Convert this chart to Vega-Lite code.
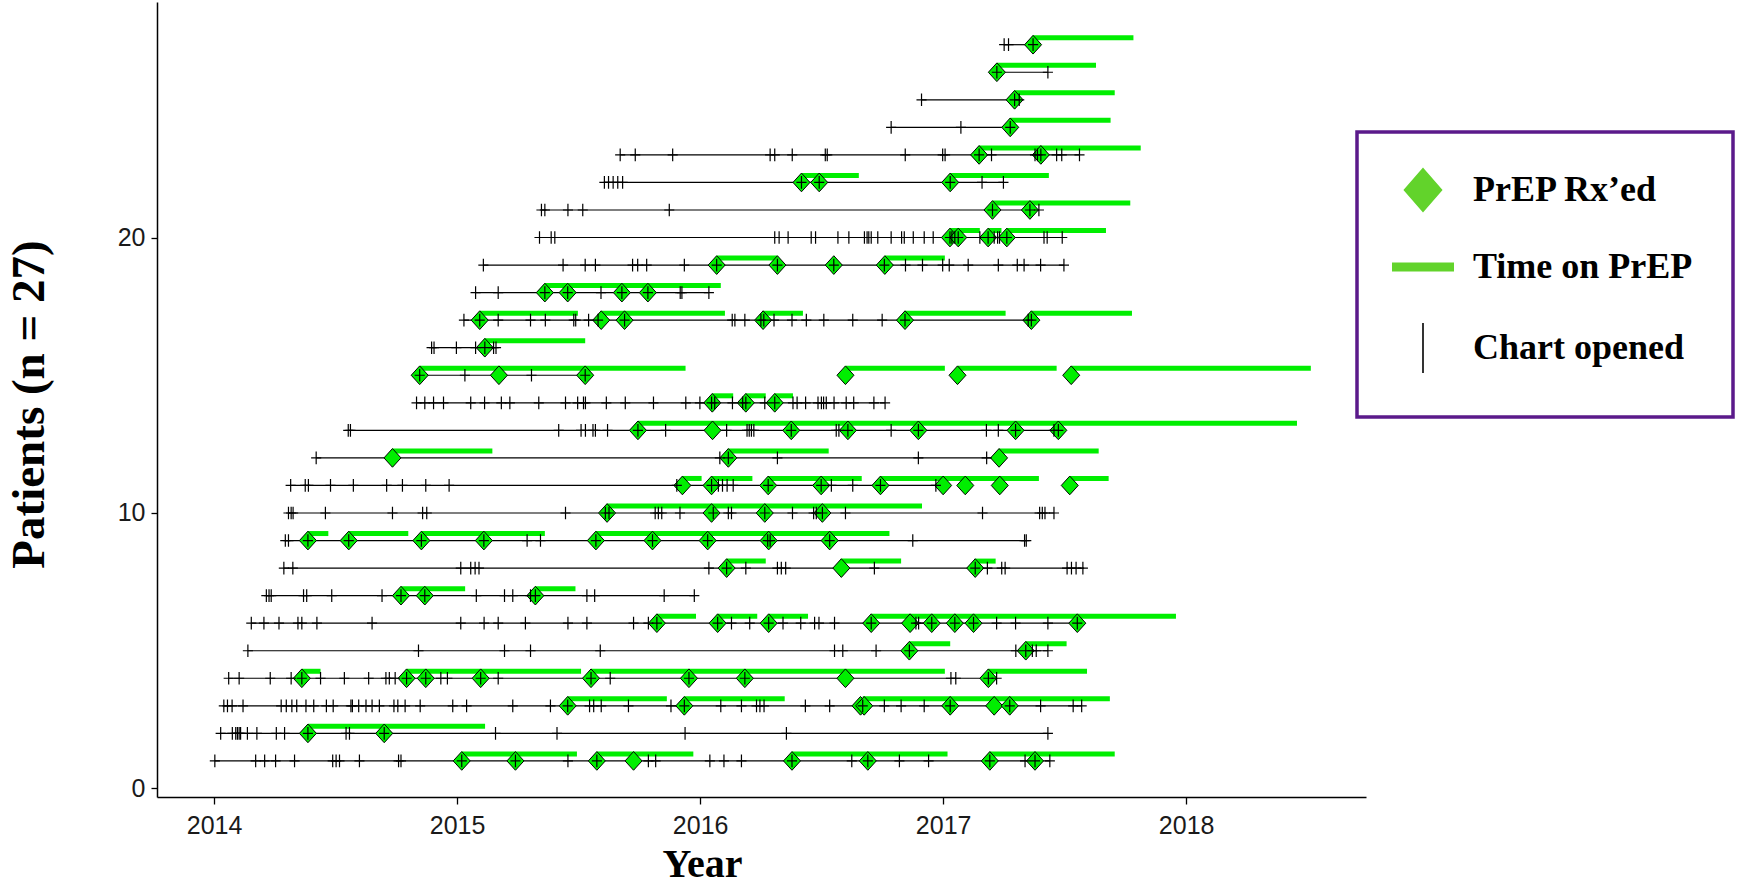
{
"$schema": "https://vega.github.io/schema/vega-lite/v6.json",
"width": 1209, "height": 795,
"autosize": {"type": "none"},
"padding": {"left": 157, "top": 2, "right": 375, "bottom": 87},
"background": "white",
"config": {"view": {"stroke": null}, "legend": {"strokeWidth": 3.5}},
"datasets": {
"lines": [
{"p":1,"s":2014.003,"e":2017.439},{"p":2,"s":2014.027,"e":2017.431},{"p":3,"s":2014.040,"e":2017.570},{"p":4,"s":2014.060,"e":2017.220},{"p":5,"s":2014.139,"e":2017.431},{"p":6,"s":2014.153,"e":2017.560},{"p":7,"s":2014.215,"e":2015.976},{"p":8,"s":2014.287,"e":2017.580},{"p":9,"s":2014.293,"e":2017.342},{"p":10,"s":2014.306,"e":2017.456},{"p":11,"s":2014.315,"e":2016.975},{"p":12,"s":2014.420,"e":2017.230},{"p":13,"s":2014.552,"e":2017.474},{"p":14,"s":2014.833,"e":2016.761},{"p":15,"s":2014.846,"e":2015.527},{"p":16,"s":2014.895,"e":2015.160},{"p":17,"s":2015.028,"e":2017.363},{"p":18,"s":2015.076,"e":2016.036},{"p":19,"s":2015.108,"e":2017.497},{"p":20,"s":2015.339,"e":2017.490},{"p":21,"s":2015.347,"e":2017.394},{"p":22,"s":2015.606,"e":2017.248},{"p":23,"s":2015.671,"e":2017.561},{"p":24,"s":2016.786,"e":2017.276},{"p":25,"s":2016.911,"e":2017.313},{"p":26,"s":2017.221,"e":2017.431},{"p":27,"s":2017.251,"e":2017.370}
],
"bars": [
{"p":1,"s":2015.019,"e":2015.493},{"p":1,"s":2015.575,"e":2015.972},{"p":1,"s":2016.378,"e":2017.018},{"p":1,"s":2017.192,"e":2017.706},
{"p":2,"s":2014.386,"e":2015.115},
{"p":3,"s":2015.455,"e":2015.863},{"p":3,"s":2015.935,"e":2016.348},{"p":3,"s":2016.669,"e":2017.686},
{"p":4,"s":2014.361,"e":2014.438},{"p":4,"s":2014.792,"e":2015.510},{"p":4,"s":2015.551,"e":2017.007},{"p":4,"s":2017.186,"e":2017.592},
{"p":5,"s":2016.861,"e":2017.029},{"p":5,"s":2017.340,"e":2017.508},
{"p":6,"s":2015.822,"e":2015.983},{"p":6,"s":2016.072,"e":2016.235},{"p":6,"s":2016.282,"e":2016.444},{"p":6,"s":2016.704,"e":2017.958},
{"p":7,"s":2014.769,"e":2015.033},{"p":7,"s":2015.322,"e":2015.487},
{"p":8,"s":2016.109,"e":2016.270},{"p":8,"s":2016.581,"e":2016.827},{"p":8,"s":2017.132,"e":2017.216},
{"p":9,"s":2014.386,"e":2014.470},{"p":9,"s":2014.554,"e":2014.799},{"p":9,"s":2014.853,"e":2015.361},{"p":9,"s":2015.571,"e":2016.779},
{"p":10,"s":2015.617,"e":2016.913},
{"p":11,"s":2015.927,"e":2016.006},{"p":11,"s":2016.047,"e":2016.215},{"p":11,"s":2016.280,"e":2016.665},{"p":11,"s":2016.742,"e":2017.394},{"p":11,"s":2017.521,"e":2017.681},
{"p":12,"s":2014.734,"e":2015.145},{"p":12,"s":2016.116,"e":2016.529},{"p":12,"s":2017.230,"e":2017.640},
{"p":13,"s":2015.744,"e":2018.456},
{"p":14,"s":2016.050,"e":2016.136},{"p":14,"s":2016.188,"e":2016.270},{"p":14,"s":2016.307,"e":2016.382},
{"p":15,"s":2014.846,"e":2015.940},{"p":15,"s":2016.598,"e":2017.007},{"p":15,"s":2017.059,"e":2017.467},{"p":15,"s":2017.527,"e":2018.513},
{"p":16,"s":2015.114,"e":2015.527},
{"p":17,"s":2015.093,"e":2015.497},{"p":17,"s":2015.593,"e":2016.102},{"p":17,"s":2016.259,"e":2016.423},{"p":17,"s":2016.843,"e":2017.257},{"p":17,"s":2017.363,"e":2017.777},
{"p":18,"s":2015.361,"e":2016.085},
{"p":19,"s":2016.068,"e":2016.318},{"p":19,"s":2016.760,"e":2017.007},
{"p":20,"s":2017.028,"e":2017.151},{"p":20,"s":2017.185,"e":2017.240},{"p":20,"s":2017.262,"e":2017.670},
{"p":21,"s":2017.203,"e":2017.770},
{"p":22,"s":2016.417,"e":2016.653},{"p":22,"s":2017.029,"e":2017.435},
{"p":23,"s":2017.148,"e":2017.813},
{"p":24,"s":2017.276,"e":2017.689},
{"p":25,"s":2017.294,"e":2017.706},
{"p":26,"s":2017.221,"e":2017.629},
{"p":27,"s":2017.370,"e":2017.783}
],
"rx": [
{"p":1,"t":2015.019},{"p":1,"t":2015.240},{"p":1,"t":2015.575},{"p":1,"t":2015.726},{"p":1,"t":2016.378},{"p":1,"t":2016.690},{"p":1,"t":2017.192},{"p":1,"t":2017.378},
{"p":2,"t":2014.386},{"p":2,"t":2014.700},
{"p":3,"t":2015.455},{"p":3,"t":2015.935},{"p":3,"t":2016.660},{"p":3,"t":2016.675},{"p":3,"t":2017.029},{"p":3,"t":2017.210},{"p":3,"t":2017.274},
{"p":4,"t":2014.361},{"p":4,"t":2014.792},{"p":4,"t":2014.871},{"p":4,"t":2015.097},{"p":4,"t":2015.551},{"p":4,"t":2015.954},{"p":4,"t":2016.184},{"p":4,"t":2016.598},{"p":4,"t":2017.186},
{"p":5,"t":2016.861},{"p":5,"t":2017.340},
{"p":6,"t":2015.822},{"p":6,"t":2016.072},{"p":6,"t":2016.282},{"p":6,"t":2016.704},{"p":6,"t":2016.864},{"p":6,"t":2016.953},{"p":6,"t":2017.048},{"p":6,"t":2017.125},{"p":6,"t":2017.552},
{"p":7,"t":2014.769},{"p":7,"t":2014.867},{"p":7,"t":2015.322},
{"p":8,"t":2016.109},{"p":8,"t":2016.581},{"p":8,"t":2017.132},
{"p":9,"t":2014.386},{"p":9,"t":2014.554},{"p":9,"t":2014.853},{"p":9,"t":2015.110},{"p":9,"t":2015.571},{"p":9,"t":2015.804},{"p":9,"t":2016.031},{"p":9,"t":2016.282},{"p":9,"t":2016.533},
{"p":10,"t":2015.617},{"p":10,"t":2016.047},{"p":10,"t":2016.266},{"p":10,"t":2016.503},
{"p":11,"t":2015.927},{"p":11,"t":2016.047},{"p":11,"t":2016.280},{"p":11,"t":2016.498},{"p":11,"t":2016.742},{"p":11,"t":2017.000},{"p":11,"t":2017.091},{"p":11,"t":2017.233},{"p":11,"t":2017.521},
{"p":12,"t":2014.734},{"p":12,"t":2016.116},{"p":12,"t":2017.230},
{"p":13,"t":2015.744},{"p":13,"t":2016.051},{"p":13,"t":2016.375},{"p":13,"t":2016.608},{"p":13,"t":2016.898},{"p":13,"t":2017.298},{"p":13,"t":2017.474},
{"p":14,"t":2016.050},{"p":14,"t":2016.188},{"p":14,"t":2016.307},
{"p":15,"t":2014.846},{"p":15,"t":2015.172},{"p":15,"t":2015.527},{"p":15,"t":2016.598},{"p":15,"t":2017.059},{"p":15,"t":2017.527},
{"p":16,"t":2015.114},
{"p":17,"t":2015.093},{"p":17,"t":2015.593},{"p":17,"t":2015.689},{"p":17,"t":2016.259},{"p":17,"t":2016.843},{"p":17,"t":2017.363},
{"p":18,"t":2015.361},{"p":18,"t":2015.455},{"p":18,"t":2015.678},{"p":18,"t":2015.785},
{"p":19,"t":2016.068},{"p":19,"t":2016.318},{"p":19,"t":2016.550},{"p":19,"t":2016.760},
{"p":20,"t":2017.028},{"p":20,"t":2017.062},{"p":20,"t":2017.185},{"p":20,"t":2017.262},
{"p":21,"t":2017.203},{"p":21,"t":2017.357},
{"p":22,"t":2016.417},{"p":22,"t":2016.490},{"p":22,"t":2017.029},
{"p":23,"t":2017.148},{"p":23,"t":2017.402},
{"p":24,"t":2017.276},
{"p":25,"t":2017.294},
{"p":26,"t":2017.221},
{"p":27,"t":2017.370}
],
"visits": [
{"p":1,"t":2014.003},{"p":1,"t":2014.171},{"p":1,"t":2014.208},{"p":1,"t":2014.253},{"p":1,"t":2014.331},{"p":1,"t":2014.488},{"p":1,"t":2014.502},{"p":1,"t":2014.516},{"p":1,"t":2014.598},{"p":1,"t":2014.759},{"p":1,"t":2014.769},{"p":1,"t":2015.019},{"p":1,"t":2015.240},{"p":1,"t":2015.456},{"p":1,"t":2015.575},{"p":1,"t":2015.787},{"p":1,"t":2015.817},{"p":1,"t":2016.040},{"p":1,"t":2016.098},{"p":1,"t":2016.170},{"p":1,"t":2016.378},{"p":1,"t":2016.624},{"p":1,"t":2016.690},{"p":1,"t":2016.820},{"p":1,"t":2016.940},{"p":1,"t":2017.192},{"p":1,"t":2017.337},{"p":1,"t":2017.378},{"p":1,"t":2017.439},
{"p":2,"t":2014.027},{"p":2,"t":2014.075},{"p":2,"t":2014.089},{"p":2,"t":2014.096},{"p":2,"t":2014.103},{"p":2,"t":2014.109},{"p":2,"t":2014.137},{"p":2,"t":2014.176},{"p":2,"t":2014.256},{"p":2,"t":2014.290},{"p":2,"t":2014.386},{"p":2,"t":2014.543},{"p":2,"t":2014.557},{"p":2,"t":2014.700},{"p":2,"t":2015.158},{"p":2,"t":2015.411},{"p":2,"t":2015.938},{"p":2,"t":2016.355},{"p":2,"t":2017.431},
{"p":3,"t":2014.040},{"p":3,"t":2014.055},{"p":3,"t":2014.074},{"p":3,"t":2014.119},{"p":3,"t":2014.276},{"p":3,"t":2014.297},{"p":3,"t":2014.320},{"p":3,"t":2014.340},{"p":3,"t":2014.378},{"p":3,"t":2014.410},{"p":3,"t":2014.462},{"p":3,"t":2014.490},{"p":3,"t":2014.563},{"p":3,"t":2014.569},{"p":3,"t":2014.595},{"p":3,"t":2014.625},{"p":3,"t":2014.650},{"p":3,"t":2014.680},{"p":3,"t":2014.740},{"p":3,"t":2014.756},{"p":3,"t":2014.786},{"p":3,"t":2014.848},{"p":3,"t":2014.982},{"p":3,"t":2015.039},{"p":3,"t":2015.229},{"p":3,"t":2015.384},{"p":3,"t":2015.455},{"p":3,"t":2015.545},{"p":3,"t":2015.562},{"p":3,"t":2015.593},{"p":3,"t":2015.705},{"p":3,"t":2015.880},{"p":3,"t":2015.935},{"p":3,"t":2016.085},{"p":3,"t":2016.170},{"p":3,"t":2016.232},{"p":3,"t":2016.246},{"p":3,"t":2016.263},{"p":3,"t":2016.433},{"p":3,"t":2016.533},{"p":3,"t":2016.669},{"p":3,"t":2016.758},{"p":3,"t":2016.827},{"p":3,"t":2016.922},{"p":3,"t":2017.029},{"p":3,"t":2017.274},{"p":3,"t":2017.401},{"p":3,"t":2017.535},{"p":3,"t":2017.570},
{"p":4,"t":2014.060},{"p":4,"t":2014.103},{"p":4,"t":2014.231},{"p":4,"t":2014.317},{"p":4,"t":2014.361},{"p":4,"t":2014.438},{"p":4,"t":2014.536},{"p":4,"t":2014.636},{"p":4,"t":2014.707},{"p":4,"t":2014.721},{"p":4,"t":2014.745},{"p":4,"t":2014.792},{"p":4,"t":2014.871},{"p":4,"t":2014.933},{"p":4,"t":2014.960},{"p":4,"t":2015.097},{"p":4,"t":2015.169},{"p":4,"t":2015.551},{"p":4,"t":2015.630},{"p":4,"t":2015.954},{"p":4,"t":2016.184},{"p":4,"t":2017.032},{"p":4,"t":2017.052},{"p":4,"t":2017.186},{"p":4,"t":2017.220},
{"p":5,"t":2014.139},{"p":5,"t":2014.841},{"p":5,"t":2015.195},{"p":5,"t":2015.302},{"p":5,"t":2015.589},{"p":5,"t":2016.553},{"p":5,"t":2016.587},{"p":5,"t":2016.724},{"p":5,"t":2016.861},{"p":5,"t":2017.299},{"p":5,"t":2017.340},{"p":5,"t":2017.367},{"p":5,"t":2017.383},{"p":5,"t":2017.431},
{"p":6,"t":2014.153},{"p":6,"t":2014.205},{"p":6,"t":2014.267},{"p":6,"t":2014.345},{"p":6,"t":2014.361},{"p":6,"t":2014.423},{"p":6,"t":2014.650},{"p":6,"t":2015.015},{"p":6,"t":2015.111},{"p":6,"t":2015.169},{"p":6,"t":2015.281},{"p":6,"t":2015.456},{"p":6,"t":2015.534},{"p":6,"t":2015.726},{"p":6,"t":2015.787},{"p":6,"t":2015.822},{"p":6,"t":2016.072},{"p":6,"t":2016.129},{"p":6,"t":2016.204},{"p":6,"t":2016.282},{"p":6,"t":2016.341},{"p":6,"t":2016.414},{"p":6,"t":2016.471},{"p":6,"t":2016.489},{"p":6,"t":2016.553},{"p":6,"t":2016.704},{"p":6,"t":2016.888},{"p":6,"t":2016.899},{"p":6,"t":2016.953},{"p":6,"t":2017.048},{"p":6,"t":2017.125},{"p":6,"t":2017.220},{"p":6,"t":2017.298},{"p":6,"t":2017.431},{"p":6,"t":2017.552},
{"p":7,"t":2014.215},{"p":7,"t":2014.226},{"p":7,"t":2014.235},{"p":7,"t":2014.368},{"p":7,"t":2014.381},{"p":7,"t":2014.484},{"p":7,"t":2014.691},{"p":7,"t":2014.769},{"p":7,"t":2014.867},{"p":7,"t":2015.079},{"p":7,"t":2015.195},{"p":7,"t":2015.229},{"p":7,"t":2015.302},{"p":7,"t":2015.322},{"p":7,"t":2015.534},{"p":7,"t":2015.566},{"p":7,"t":2015.852},{"p":7,"t":2015.976},
{"p":8,"t":2014.287},{"p":8,"t":2014.324},{"p":8,"t":2015.015},{"p":8,"t":2015.056},{"p":8,"t":2015.074},{"p":8,"t":2015.090},{"p":8,"t":2016.036},{"p":8,"t":2016.109},{"p":8,"t":2016.188},{"p":8,"t":2016.318},{"p":8,"t":2016.334},{"p":8,"t":2016.352},{"p":8,"t":2016.717},{"p":8,"t":2017.132},{"p":8,"t":2017.182},{"p":8,"t":2017.241},{"p":8,"t":2017.255},{"p":8,"t":2017.510},{"p":8,"t":2017.528},{"p":8,"t":2017.547},{"p":8,"t":2017.575},
{"p":9,"t":2014.293},{"p":9,"t":2014.306},{"p":9,"t":2014.386},{"p":9,"t":2014.554},{"p":9,"t":2014.853},{"p":9,"t":2015.110},{"p":9,"t":2015.288},{"p":9,"t":2015.343},{"p":9,"t":2015.571},{"p":9,"t":2015.804},{"p":9,"t":2016.031},{"p":9,"t":2016.278},{"p":9,"t":2016.288},{"p":9,"t":2016.533},{"p":9,"t":2016.875},{"p":9,"t":2017.335},{"p":9,"t":2017.342},
{"p":10,"t":2014.306},{"p":10,"t":2014.317},{"p":10,"t":2014.325},{"p":10,"t":2014.458},{"p":10,"t":2014.734},{"p":10,"t":2014.858},{"p":10,"t":2014.875},{"p":10,"t":2015.446},{"p":10,"t":2015.610},{"p":10,"t":2015.625},{"p":10,"t":2015.815},{"p":10,"t":2015.828},{"p":10,"t":2015.842},{"p":10,"t":2015.917},{"p":10,"t":2016.054},{"p":10,"t":2016.116},{"p":10,"t":2016.129},{"p":10,"t":2016.266},{"p":10,"t":2016.380},{"p":10,"t":2016.467},{"p":10,"t":2016.478},{"p":10,"t":2016.503},{"p":10,"t":2016.598},{"p":10,"t":2017.162},{"p":10,"t":2017.397},{"p":10,"t":2017.408},{"p":10,"t":2017.419},{"p":10,"t":2017.456},
{"p":11,"t":2014.315},{"p":11,"t":2014.375},{"p":11,"t":2014.388},{"p":11,"t":2014.479},{"p":11,"t":2014.573},{"p":11,"t":2014.710},{"p":11,"t":2014.775},{"p":11,"t":2014.871},{"p":11,"t":2014.967},{"p":11,"t":2015.904},{"p":11,"t":2016.047},{"p":11,"t":2016.075},{"p":11,"t":2016.092},{"p":11,"t":2016.111},{"p":11,"t":2016.136},{"p":11,"t":2016.280},{"p":11,"t":2016.498},{"p":11,"t":2016.540},{"p":11,"t":2016.628},{"p":11,"t":2016.742},{"p":11,"t":2016.970},
{"p":12,"t":2014.420},{"p":12,"t":2016.081},{"p":12,"t":2016.116},{"p":12,"t":2016.318},{"p":12,"t":2016.898},{"p":12,"t":2017.179},
{"p":13,"t":2014.552},{"p":13,"t":2014.561},{"p":13,"t":2015.418},{"p":13,"t":2015.510},{"p":13,"t":2015.528},{"p":13,"t":2015.559},{"p":13,"t":2015.569},{"p":13,"t":2015.619},{"p":13,"t":2015.744},{"p":13,"t":2015.858},{"p":13,"t":2016.109},{"p":13,"t":2016.193},{"p":13,"t":2016.202},{"p":13,"t":2016.211},{"p":13,"t":2016.221},{"p":13,"t":2016.375},{"p":13,"t":2016.560},{"p":13,"t":2016.571},{"p":13,"t":2016.608},{"p":13,"t":2016.786},{"p":13,"t":2016.898},{"p":13,"t":2017.178},{"p":13,"t":2017.227},{"p":13,"t":2017.298},{"p":13,"t":2017.456},{"p":13,"t":2017.474},
{"p":14,"t":2014.833},{"p":14,"t":2014.867},{"p":14,"t":2014.903},{"p":14,"t":2014.944},{"p":14,"t":2015.056},{"p":14,"t":2015.113},{"p":14,"t":2015.182},{"p":14,"t":2015.217},{"p":14,"t":2015.336},{"p":14,"t":2015.446},{"p":14,"t":2015.496},{"p":14,"t":2015.520},{"p":14,"t":2015.528},{"p":14,"t":2015.614},{"p":14,"t":2015.692},{"p":14,"t":2015.808},{"p":14,"t":2015.941},{"p":14,"t":2015.999},{"p":14,"t":2016.047},{"p":14,"t":2016.060},{"p":14,"t":2016.133},{"p":14,"t":2016.175},{"p":14,"t":2016.188},{"p":14,"t":2016.266},{"p":14,"t":2016.307},{"p":14,"t":2016.382},{"p":14,"t":2016.399},{"p":14,"t":2016.434},{"p":14,"t":2016.485},{"p":14,"t":2016.499},{"p":14,"t":2016.508},{"p":14,"t":2016.519},{"p":14,"t":2016.551},{"p":14,"t":2016.601},{"p":14,"t":2016.632},{"p":14,"t":2016.715},{"p":14,"t":2016.761},
{"p":15,"t":2014.846},{"p":15,"t":2015.032},{"p":15,"t":2015.306},{"p":15,"t":2015.527},
{"p":16,"t":2014.895},{"p":16,"t":2014.905},{"p":16,"t":2014.997},{"p":16,"t":2015.076},{"p":16,"t":2015.114},{"p":16,"t":2015.150},{"p":16,"t":2015.160},
{"p":17,"t":2015.028},{"p":17,"t":2015.093},{"p":17,"t":2015.169},{"p":17,"t":2015.302},{"p":17,"t":2015.363},{"p":17,"t":2015.480},{"p":17,"t":2015.488},{"p":17,"t":2015.541},{"p":17,"t":2015.580},{"p":17,"t":2015.689},{"p":17,"t":2016.132},{"p":17,"t":2016.143},{"p":17,"t":2016.184},{"p":17,"t":2016.250},{"p":17,"t":2016.262},{"p":17,"t":2016.304},{"p":17,"t":2016.378},{"p":17,"t":2016.437},{"p":17,"t":2016.509},{"p":17,"t":2016.628},{"p":17,"t":2016.749},{"p":17,"t":2016.843},{"p":17,"t":2017.350},{"p":17,"t":2017.363},
{"p":18,"t":2015.076},{"p":18,"t":2015.169},{"p":18,"t":2015.361},{"p":18,"t":2015.455},{"p":18,"t":2015.592},{"p":18,"t":2015.678},{"p":18,"t":2015.785},{"p":18,"t":2015.918},{"p":18,"t":2015.925},{"p":18,"t":2016.036},
{"p":19,"t":2015.108},{"p":19,"t":2015.436},{"p":19,"t":2015.527},{"p":19,"t":2015.569},{"p":19,"t":2015.722},{"p":19,"t":2015.743},{"p":19,"t":2015.780},{"p":19,"t":2015.935},{"p":19,"t":2016.068},{"p":19,"t":2016.318},{"p":19,"t":2016.550},{"p":19,"t":2016.758},{"p":19,"t":2016.845},{"p":19,"t":2016.915},{"p":19,"t":2016.998},{"p":19,"t":2017.025},{"p":19,"t":2017.103},{"p":19,"t":2017.227},{"p":19,"t":2017.305},{"p":19,"t":2017.333},{"p":19,"t":2017.401},{"p":19,"t":2017.497},
{"p":20,"t":2015.339},{"p":20,"t":2015.387},{"p":20,"t":2015.402},{"p":20,"t":2016.307},{"p":20,"t":2016.325},{"p":20,"t":2016.362},{"p":20,"t":2016.457},{"p":20,"t":2016.475},{"p":20,"t":2016.567},{"p":20,"t":2016.612},{"p":20,"t":2016.676},{"p":20,"t":2016.687},{"p":20,"t":2016.694},{"p":20,"t":2016.704},{"p":20,"t":2016.731},{"p":20,"t":2016.786},{"p":20,"t":2016.829},{"p":20,"t":2016.840},{"p":20,"t":2016.877},{"p":20,"t":2016.922},{"p":20,"t":2016.959},{"p":20,"t":2017.028},{"p":20,"t":2017.036},{"p":20,"t":2017.048},{"p":20,"t":2017.062},{"p":20,"t":2017.151},{"p":20,"t":2017.185},{"p":20,"t":2017.210},{"p":20,"t":2017.224},{"p":20,"t":2017.232},{"p":20,"t":2017.262},{"p":20,"t":2017.415},{"p":20,"t":2017.428},{"p":20,"t":2017.490},
{"p":21,"t":2015.347},{"p":21,"t":2015.361},{"p":21,"t":2015.456},{"p":21,"t":2015.517},{"p":21,"t":2015.873},{"p":21,"t":2017.203},{"p":21,"t":2017.357},{"p":21,"t":2017.394},
{"p":22,"t":2015.606},{"p":22,"t":2015.623},{"p":22,"t":2015.642},{"p":22,"t":2015.661},{"p":22,"t":2015.681},{"p":22,"t":2016.417},{"p":22,"t":2016.490},{"p":22,"t":2017.029},{"p":22,"t":2017.160},{"p":22,"t":2017.248},
{"p":23,"t":2015.671},{"p":23,"t":2015.733},{"p":23,"t":2015.887},{"p":23,"t":2016.288},{"p":23,"t":2016.307},{"p":23,"t":2016.379},{"p":23,"t":2016.515},{"p":23,"t":2016.523},{"p":23,"t":2016.844},{"p":23,"t":2016.998},{"p":23,"t":2017.008},{"p":23,"t":2017.148},{"p":23,"t":2017.199},{"p":23,"t":2017.378},{"p":23,"t":2017.388},{"p":23,"t":2017.402},{"p":23,"t":2017.467},{"p":23,"t":2017.488},{"p":23,"t":2017.561},
{"p":24,"t":2016.786},{"p":24,"t":2017.073},{"p":24,"t":2017.276},
{"p":25,"t":2016.911},{"p":25,"t":2017.294},{"p":25,"t":2017.313},
{"p":26,"t":2017.221},{"p":26,"t":2017.431},
{"p":27,"t":2017.251},{"p":27,"t":2017.269},{"p":27,"t":2017.370}
]
},
"encoding": {
"y": {"field": "p", "type": "quantitative",
 "scale": {"domain": [-0.31, 28.55], "nice": false, "zero": false},
 "axis": {"values": [0, 10, 20], "format": "d", "grid": false,
  "title": "Patients (n = 27)", "titleFont": "Liberation Serif", "titleFontWeight": "bold", "titleFontSize": 47, "titleColor": "black",
  "titleAngle": -90, "titleX": -128, "titleY": 402, "titleAlign": "center", "titleBaseline": "middle",
  "labelFont": "Liberation Sans", "labelFontSize": 25, "labelColor": "#1a1a1a", "labelPadding": 6,
  "tickSize": 6, "tickColor": "black", "tickWidth": 1.3, "domainColor": "black", "domainWidth": 1.5}}
},
"layer": [
{"data": {"name": "lines"},
 "mark": {"type": "rule", "color": "black", "strokeWidth": 1.2},
 "encoding": {
  "x": {"field": "s", "type": "quantitative",
   "scale": {"domain": [2013.765, 2018.74], "nice": false, "zero": false},
   "axis": {"values": [2014, 2015, 2016, 2017, 2018], "format": "d", "grid": false,
    "title": "Year", "titleFont": "Liberation Serif", "titleFontWeight": "bold", "titleFontSize": 40, "titleColor": "black",
    "titleX": 545, "titleY": 79, "titleBaseline": "alphabetic", "titleAlign": "center",
    "labelFont": "Liberation Sans", "labelFontSize": 25, "labelColor": "#1a1a1a", "labelPadding": 9,
    "tickSize": 7, "tickColor": "black", "tickWidth": 1.3, "domainColor": "black", "domainWidth": 1.5}},
  "x2": {"field": "e"}
 }},
{"data": {"name": "bars"},
 "mark": {"type": "rule", "strokeWidth": 5, "yOffset": -7, "strokeCap": "butt", "color": "#00EE00"},
 "encoding": {
  "x": {"field": "s", "type": "quantitative"},
  "x2": {"field": "e"}
 }},
{"data": {"name": "bars"},
 "mark": {"type": "rule", "strokeWidth": 5, "yOffset": -7, "strokeCap": "butt", "opacity": 0},
 "encoding": {
  "x": {"field": "s", "type": "quantitative"},
  "x2": {"field": "e"},
  "color": {"datum": "Time on PrEP", "type": "nominal",
   "scale": {"domain": ["PrEP Rx’ed", "Time on PrEP", "Chart opened"], "range": ["#62D32B", "#62D32B", "black"]},
   "legend": {"title": null, "orient": "none", "legendX": 1200, "legendY": 130,
    "padding": 40, "strokeColor": "#5B1A8B", "fillColor": "white",
    "labelFont": "Liberation Serif", "labelFontWeight": "bold", "labelFontSize": 36, "labelColor": "black", "labelLimit": 600,
    "symbolSize": 1369, "symbolOffset": 8, "labelOffset": 32, "rowPadding": 34, "symbolOpacity": 1,
    "encode": {
     "legend": {"update": {"strokeWidth": {"value": 3.5}}},
     "symbols": {"update": {
      "shape": {"signal": "datum.value === 'Time on PrEP' ? 'M-1,0L1,0' : datum.value === 'Chart opened' ? 'M0,-1L0,1' : 'M0,-1.15L1,0L0,1.15L-1,0Z'"},
      "fill": {"signal": "datum.value === 'Time on PrEP' || datum.value === 'Chart opened' ? 'transparent' : '#62D32B'"},
      "stroke": {"signal": "datum.value === 'Time on PrEP' ? '#62D32B' : datum.value === 'Chart opened' ? 'black' : 'transparent'"},
      "strokeWidth": {"signal": "datum.value === 'Time on PrEP' ? 9 : 1.6"},
      "size": {"signal": "datum.value === 'Time on PrEP' ? 3844 : datum.value === 'Chart opened' ? 2500 : 1369"},
      "opacity": {"value": 1}
     }}
    }}}
 }},
{"data": {"name": "rx"},
 "mark": {"type": "point", "shape": "M0,-1.1L1,0L0,1.1L-1,0Z", "filled": true, "fill": "#00EE00", "stroke": "black", "strokeWidth": 1, "size": 289, "opacity": 1},
 "encoding": {
  "x": {"field": "t", "type": "quantitative"}
 }},
{"data": {"name": "rx"},
 "mark": {"type": "point", "shape": "M0,-1.1L1,0L0,1.1L-1,0Z", "filled": true, "size": 289, "opacity": 0},
 "encoding": {
  "x": {"field": "t", "type": "quantitative"},
  "color": {"datum": "PrEP Rx’ed", "type": "nominal"}
 }},
{"data": {"name": "visits"},
 "mark": {"type": "point", "shape": "M-0.8,0L0.8,0M0,-1L0,1", "filled": false, "strokeWidth": 1.2, "size": 160, "opacity": 1},
 "encoding": {
  "x": {"field": "t", "type": "quantitative"},
  "color": {"datum": "Chart opened", "type": "nominal"}
 }}
]
}
